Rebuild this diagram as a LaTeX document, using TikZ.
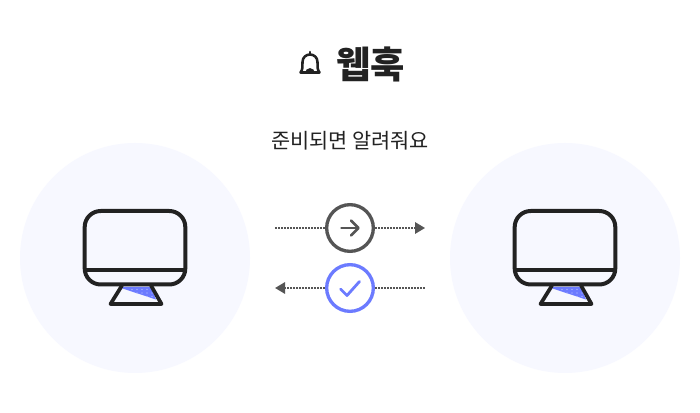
\documentclass[tikz,border=0pt]{standalone}
\usepackage{fontspec}
\newfontfamily\krfont{Noto Sans CJK KR}
\usetikzlibrary{arrows.meta}
\definecolor{ink}{HTML}{222222}
\definecolor{halo}{HTML}{F7F8FF}
\definecolor{grayc}{HTML}{555555}
\definecolor{bluec}{HTML}{6C7BFF}
\tikzset{
  halo/.style={circle,fill=halo,draw=none,minimum size=172.5pt,inner sep=0pt},
  badge/.style={circle,fill=white,line width=2.5pt,minimum size=35pt,inner sep=0pt},
  link/.style={line width=1.5pt,grayc,dash pattern=on 1.15pt off 1.1pt,-{Triangle[length=7.5pt,width=8.5pt,sep=0pt]}},
  linkplain/.style={line width=1.5pt,grayc,dash pattern=on 1.15pt off 1.1pt},
  outline/.style={draw=ink,line width=3pt,line join=round},
  glyph/.style={line width=2.1pt,line cap=round,line join=round}
}
\begin{document}
\begin{tikzpicture}[x=0.75pt,y=-0.75pt]
\useasboundingbox (0,0) rectangle (700,413);
\fill[white] (0,0) rectangle (700,413);
\node[halo] (hl) at (135,258) {};
\node[halo] (hr) at (565,258) {};
% title
\node[font=\krfont\bfseries\fontsize{28pt}{32pt}\selectfont,text=ink,inner sep=0pt] (title) at (370.5,64) {웹훅};
\node[font=\krfont\fontsize{15.6pt}{18pt}\selectfont,text=ink,inner sep=0pt] (sub) at (350,141) {준비되면 알려줘요};
% bell
\begin{scope}[shift={(310,64.5)}]
\draw[ink,line width=1.9pt,line join=round,line cap=round]
  (-9.5,8) .. controls (-7,5) and (-7.5,1) .. (-7.5,-2.5)
  .. controls (-7.5,-7) and (-4,-10) .. (0,-10)
  .. controls (4,-10) and (7.5,-7) .. (7.5,-2.5)
  .. controls (7.5,1) and (7,5) .. (9.5,8) -- cycle;
\draw[ink,line width=1.9pt,line cap=round] (0,-10) -- (0,-12.5);
\draw[ink,line width=1.9pt] (-3.5,8.5) arc[start angle=180,end angle=360,radius=3.5];
\end{scope}
% monitors
\foreach \dx in {0,430}{
\begin{scope}[shift={(\dx,0)}]
  \fill[bluec] (122.5,287) -- (151,287) -- (156,299.5) -- (121,288) -- cycle;
  \foreach \px/\py in {132/289.5,137/289.5,142/289.5,147/289.5,137/293,142/293,147/293,152/293,147/296.5,152/296.5}
    \fill[white!60!bluec] (\px,\py) circle[radius=0.6];
  \draw[outline,fill=none,rounded corners=12pt] (84.7,211) rectangle (185.3,284.5);
  \draw[outline] (84.7,270) -- (185.3,270);
  \draw[outline,line width=2.8pt] (122,285.5) -- (110.5,304) -- (161.5,304) -- (151,285.5);
\end{scope}}
% badges
\node[badge,draw=grayc] (send) at (350,228) {};
\node[badge,draw=bluec] (done) at (350,288) {};
\coordinate (sl) at (275,228);
\coordinate (sr) at (425,228);
\coordinate (dl) at (275,288);
\coordinate (dr) at (425,288);
\draw[linkplain] (sl) -- (send);
\draw[link] (send) -- (sr);
\draw[link] (done) -- (dl);
\draw[linkplain] (done) -- (dr);
% glyphs
\draw[glyph,grayc] (341.5,228) -- (358,228);
\draw[glyph,grayc] (351,220.5) -- (358.5,228) -- (351,235.5);
\draw[glyph,bluec] (340.5,289) -- (347,295.5) -- (359.5,281.5);
\end{tikzpicture}
\end{document}
